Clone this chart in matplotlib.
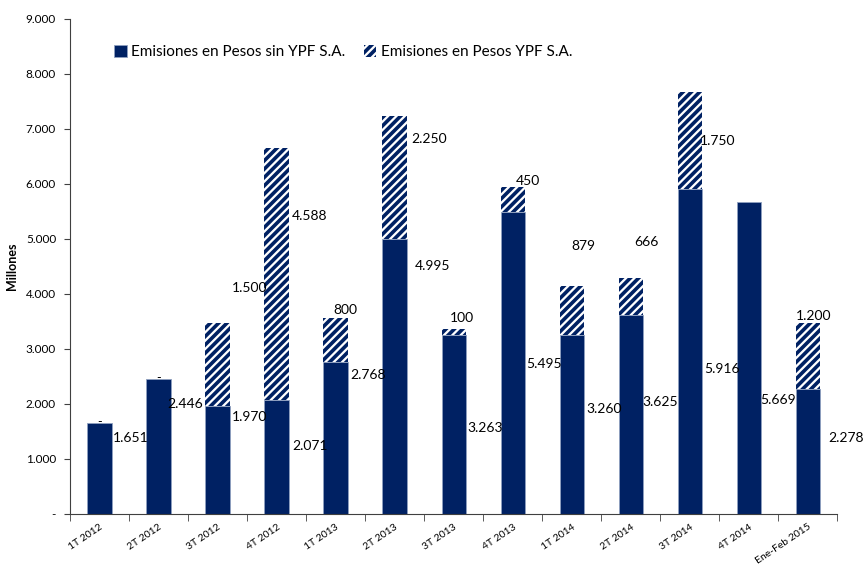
import numpy as np
import matplotlib
matplotlib.use("Agg")
from matplotlib import pyplot as plt
from matplotlib.ticker import FuncFormatter

categories = ["1T 2012", "2T 2012", "3T 2012", "4T 2012", "1T 2013", "2T 2013", "3T 2013",
              "4T 2013", "1T 2014", "2T 2014", "3T 2014", "4T 2014", "Ene-Feb 2015"]
sin_ypf = [1651, 2446, 1970, 2071, 2768, 4995, 3263, 5495, 3260, 3625, 5916, 5669, 2278]
ypf = [0, 0, 1500, 4588, 800, 2250, 100, 450, 879, 666, 1750, 0, 1200]
# where the original chart put its value labels (height in data units, x shift in categories)
sin_label_y = [1382, 2000, 1764, 1236, 2527, 4509, 1564, 2727, 1909, 2036, 2636, 2073, 1382]
sin_label_dx = [0.23, 0.15, 0.25, 0.26, 0.25, 0.35, 0.23, 0.23, 0.25, 0.2, 0.25, 0.2, 0.35]
ypf_label_y = [None, None, 4109, 5418, 3709, 6818, 3564, 6055, 4873, 4945, 6782, None, 3600]
ypf_label_dx = [0, 0, 0.25, 0.26, -0.04, 0.28, -0.06, 0.06, -0.01, 0.06, 0.18, 0, -0.2]

navy = "#002163"
plt.rcParams['font.family'] = ['Lato', 'DejaVu Sans']
plt.rcParams['hatch.linewidth'] = 2.6
plt.rcParams['hatch.color'] = navy

def fmt(v):
    return f"{v:,.0f}".replace(",", ".")

def main():
    fig = plt.figure(figsize=(8.64, 5.67), dpi=100)
    ax = fig.add_axes([0.081, 0.0935, 0.888, 0.873])
    x = np.arange(len(categories))
    w = 0.41
    ax.bar(x, sin_ypf, w, color=navy, edgecolor="#8fa0c0", linewidth=0.6,
           label="Emisiones en Pesos sin YPF S.A.")
    ax.bar(x, ypf, w, bottom=sin_ypf, color="white", edgecolor=navy, hatch="////",
           linewidth=0, label="Emisiones en Pesos YPF S.A.")

    for i in range(len(categories)):
        ax.text(x[i] + sin_label_dx[i], sin_label_y[i], fmt(sin_ypf[i]), fontsize=10,
                ha="left", va="center")
        if ypf_label_y[i] is not None:
            ax.text(x[i] + ypf_label_dx[i], ypf_label_y[i], fmt(ypf[i]), fontsize=10,
                    ha="left", va="center")
        elif i < 2:
            ax.text(x[i], sin_ypf[i] + 20, "-", fontsize=9, ha="center", va="center")

    ax.set_xlim(-0.5, len(categories) - 0.5)
    ax.set_ylim(0, 9000)
    ax.set_yticks(np.arange(0, 9001, 1000))
    ax.yaxis.set_major_formatter(FuncFormatter(lambda v, p: "-" if v == 0 else fmt(v)))
    ax.tick_params(axis="y", labelsize=8.5, length=4, color="#404040", pad=6)
    ax.set_ylabel("Millones", fontsize=9, fontweight="bold", labelpad=6)

    ax.set_xticks(x)
    ax.set_xticklabels(categories, rotation=34, ha="right", va="top",
                       rotation_mode="anchor", fontsize=7.5)
    ax.tick_params(axis="x", which="major", length=0, pad=6)
    ax.set_xticks(np.arange(-0.5, len(categories), 1), minor=True)
    ax.tick_params(axis="x", which="minor", length=5, color="#404040")

    for s in ["top", "right"]:
        ax.spines[s].set_visible(False)
    for s in ["left", "bottom"]:
        ax.spines[s].set_color("#404040")

    ax.legend(loc="upper left", bbox_to_anchor=(0.04, 0.975), ncol=2, frameon=False,
              fontsize=11, handlelength=0.8, handleheight=0.8, handletextpad=0.3,
              columnspacing=1.2)
    fig.savefig("out.png", dpi=100)

if __name__ == "__main__":
    main()
